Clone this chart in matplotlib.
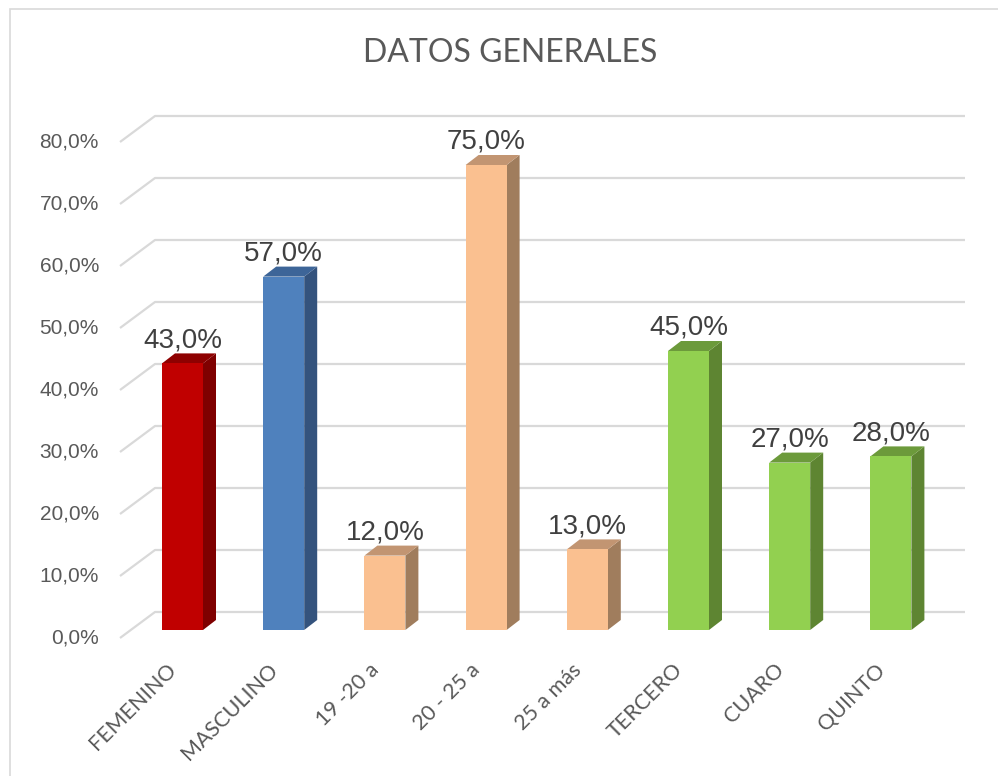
import matplotlib

matplotlib.use("Agg")

import matplotlib.pyplot as plt  # noqa: E402
from matplotlib.patches import Polygon, Rectangle  # noqa: E402

CATEGORIES = ["FEMENINO", "MASCULINO", "19 -20 a", "20 - 25 a", "25 a más",
              "TERCERO", "CUARO", "QUINTO"]
VALUES = [43.0, 57.0, 12.0, 75.0, 13.0, 45.0, 27.0, 28.0]
TICKS = [0, 10, 20, 30, 40, 50, 60, 70, 80]

# (front, side, top) per bar
RED = ("#C00000", "#7F0000", "#8E0000")
BLUE = ("#4F81BD", "#34537D", "#3D6598")
PEACH = ("#FAC090", "#A07D5D", "#C29572")
GREEN = ("#92D050", "#5E8532", "#6C9A3B")
BAR_COLORS = [RED, BLUE, PEACH, PEACH, PEACH, GREEN, GREEN, GREEN]

W, H = 998, 776
PX_CAT = 101.2   # pixels between bar centres
PX_PCT = 6.2     # pixels per percent
X0_PX = 182.5    # centre of first bar
Y0_PX = 630.0    # bar floor (front)


def hx(px):
    """horizontal pixels -> category units"""
    return px / PX_CAT


def vy(px):
    """vertical pixels -> percent units"""
    return px / PX_PCT


fig = plt.figure(figsize=(W / 100, H / 100), dpi=100)
ax = fig.add_axes([0, 0, 1, 1])
ax.set_xlim(-X0_PX / PX_CAT, (W - X0_PX) / PX_CAT)
ax.set_ylim(-(H - Y0_PX) / PX_PCT, Y0_PX / PX_PCT)
ax.axis("off")

# chart area border
ax.add_patch(Rectangle((hx(10 - X0_PX), vy(Y0_PX - 900)), hx(1200), vy(900 - 9),
                       fill=False, edgecolor="#D9D9D9", linewidth=1.2))

# walls / gridlines with perspective
back_x0, back_x1, front_x = hx(155 - X0_PX), hx(965 - X0_PX), hx(120 - X0_PX)
back_dy, front_dy = vy(18), vy(-8)
for t in TICKS:
    ax.plot([front_x, back_x0, back_x1], [t + front_dy, t + back_dy, t + back_dy],
            color="#D9D9D9", linewidth=1.6, solid_capstyle="butt", zorder=1)
    ax.text(hx(99 - X0_PX), t + front_dy, f"{t:.1f}%".replace(".", ","),
            ha="right", va="center", fontsize=15, color="#595959",
            family="Liberation Sans")

# 3D-looking bars
half = hx(20.5)
ddx, ddy = hx(13), vy(10)
for i, (v, (cf, cs, ct)) in enumerate(zip(VALUES, BAR_COLORS)):
    left, right = i - half, i + half
    ax.add_patch(Polygon([(right, 0), (right + ddx, ddy), (right + ddx, v + ddy), (right, v)],
                         closed=True, facecolor=cs, edgecolor="none", zorder=3))
    ax.add_patch(Polygon([(left, v), (left + ddx, v + ddy), (right + ddx, v + ddy), (right, v)],
                         closed=True, facecolor=ct, edgecolor="none", zorder=3))
    ax.add_patch(Rectangle((left, 0), 2 * half, v, facecolor=cf, edgecolor="none", zorder=4))
    ax.text(i, v + ddy + vy(6), f"{v:.1f}%".replace(".", ","), ha="center", va="baseline",
            fontsize=20, color="#404040", family="Liberation Sans", zorder=5)
    ax.text(i - hx(9), vy(Y0_PX - 667), CATEGORIES[i], rotation=45, rotation_mode="anchor",
            ha="right", va="center", fontsize=15.5, color="#595959", family="Lato")

ax.text(hx(510 - X0_PX), vy(Y0_PX - 53), "DATOS GENERALES", ha="center", va="center",
        fontsize=23, color="#595959", family="Lato")

fig.savefig("out.png", dpi=100)
